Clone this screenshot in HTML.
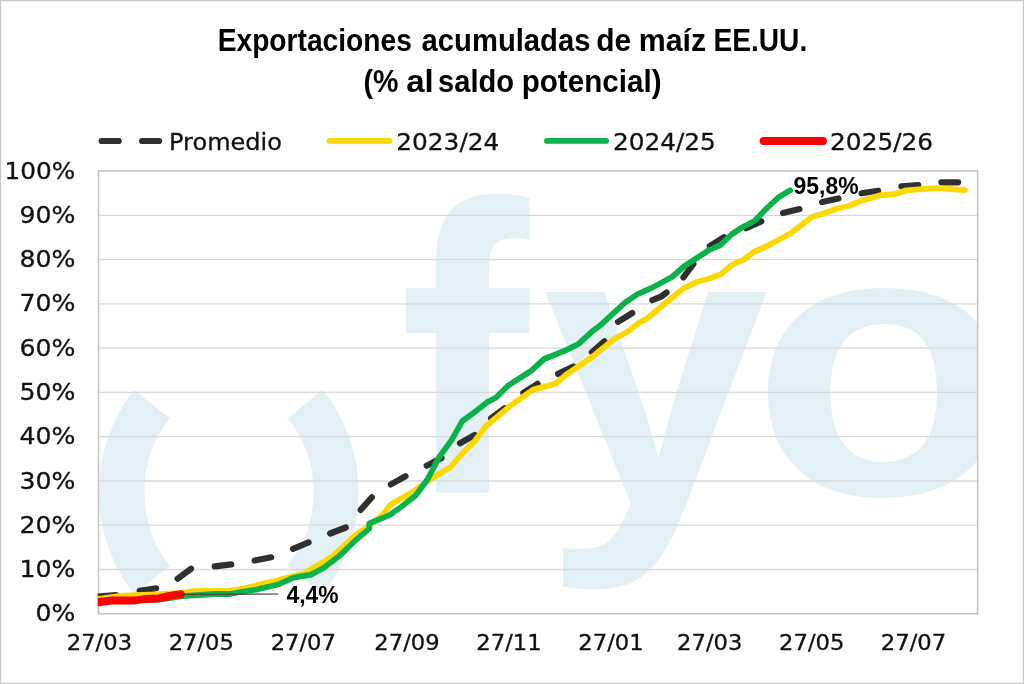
<!DOCTYPE html>
<html lang="es">
<head>
<meta charset="utf-8">
<title>Exportaciones acumuladas de maíz EE.UU.</title>
<style>
html,body{margin:0;padding:0;background:#fff;}
body{width:1024px;height:684px;overflow:hidden;font-family:"DejaVu Sans","Liberation Sans",sans-serif;}
svg{display:block;}
.title{font-family:"Liberation Sans",sans-serif;font-weight:700;font-size:31.2px;fill:#000;}
.ax{font-family:"DejaVu Sans","Liberation Sans",sans-serif;font-size:23.8px;fill:#111;stroke:#111;stroke-width:.3px;}
.axx{font-family:"DejaVu Sans","Liberation Sans",sans-serif;font-size:21.3px;fill:#111;stroke:#111;stroke-width:.3px;}
.lab{font-family:"Liberation Sans",sans-serif;font-weight:700;font-size:23.5px;fill:#000;}
.wm{font-family:"Liberation Sans",sans-serif;font-weight:700;fill:#e3f1f6;}
.ln{fill:none;stroke-linecap:round;stroke-linejoin:round;}
</style>
</head>
<body>
<svg width="1024" height="684" viewBox="0 0 1024 684">
<defs><clipPath id="plotc"><rect x="97.8" y="171.0" width="879.8000000000001" height="442.79999999999995"/></clipPath><clipPath id="fclip"><rect x="380" y="150" width="200" height="342.5"/></clipPath><clipPath id="plot"><rect x="98.5" y="171.0" width="879.1" height="442.79999999999995"/></clipPath></defs>
<rect x="0" y="0" width="1024" height="684" fill="#fff"/>
<rect x="0.5" y="0.5" width="1023" height="683" fill="none" stroke="#c6c6c6" stroke-width="1.3"/>

<text class="title" x="217.70" y="51.1" textLength="194.21" lengthAdjust="spacingAndGlyphs">Exportaciones</text>
<text class="title" x="421.59" y="51.1" textLength="168.90" lengthAdjust="spacingAndGlyphs">acumuladas</text>
<text class="title" x="596.30" y="51.1" textLength="34.94" lengthAdjust="spacingAndGlyphs">de</text>
<text class="title" x="638.76" y="51.1" textLength="67.46" lengthAdjust="spacingAndGlyphs">maíz</text>
<text class="title" x="713.47" y="51.1" textLength="93.78" lengthAdjust="spacingAndGlyphs">EE.UU.</text>
<text class="title" x="363.40" y="91.5" textLength="34.97" lengthAdjust="spacingAndGlyphs">(%</text>
<text class="title" x="406.21" y="91.5" textLength="27.53" lengthAdjust="spacingAndGlyphs">al</text>
<text class="title" x="438.08" y="91.5" textLength="76.05" lengthAdjust="spacingAndGlyphs">saldo</text>
<text class="title" x="521.70" y="91.5" textLength="139.84" lengthAdjust="spacingAndGlyphs">potencial)</text>

<g class="ln">
<path d="M101.7 141H118.7M142.1 141H159.1" stroke="#303030" stroke-width="6.2"/>
<line x1="329.5" x2="389.3" y1="140.9" y2="140.9" stroke="#fcd800" stroke-width="5.8"/>
<line x1="546.9" x2="606.1" y1="140.9" y2="140.9" stroke="#0db14b" stroke-width="5.8"/>
<line x1="763.7" x2="822.9" y1="140.9" y2="140.9" stroke="#ff0000" stroke-width="8"/>
</g>
<g class="ax">
<text x="169" y="149.5" textLength="113" lengthAdjust="spacingAndGlyphs">Promedio</text>
<text x="396.3" y="149.5" textLength="103" lengthAdjust="spacingAndGlyphs">2023/24</text>
<text x="612.9" y="149.5" textLength="103" lengthAdjust="spacingAndGlyphs">2024/25</text>
<text x="830.1" y="149.5" textLength="103" lengthAdjust="spacingAndGlyphs">2025/26</text>
</g>

<g clip-path="url(#plot)">
<g class="wm">
<path d="M152 404A142.7 142.7 0 0 0 152 580" fill="none" stroke="#e3f1f6" stroke-width="45.6"/>
<path d="M305 404A140 140 0 0 1 305 580" fill="none" stroke="#e3f1f6" stroke-width="45"/>
<g clip-path="url(#fclip)"><text x="0" y="0" font-size="400" transform="translate(399.5 543.0) scale(0.97 1.205)">f</text></g>
<text x="0" y="0" font-size="400" transform="translate(542 505.4) scale(1.02 1.01)">y</text>
<text x="0" y="0" font-size="400" transform="translate(751 494.2) scale(1.085 0.958)">o</text>
</g>
</g>

<g stroke="#d9d9d9" stroke-width="1.3"><line x1="98.5" x2="977.6" y1="569.5" y2="569.5"/><line x1="98.5" x2="977.6" y1="525.2" y2="525.2"/><line x1="98.5" x2="977.6" y1="481.0" y2="481.0"/><line x1="98.5" x2="977.6" y1="436.7" y2="436.7"/><line x1="98.5" x2="977.6" y1="392.4" y2="392.4"/><line x1="98.5" x2="977.6" y1="348.1" y2="348.1"/><line x1="98.5" x2="977.6" y1="303.8" y2="303.8"/><line x1="98.5" x2="977.6" y1="259.6" y2="259.6"/><line x1="98.5" x2="977.6" y1="215.3" y2="215.3"/></g>
<rect x="98.5" y="171.0" width="879.1" height="442.79999999999995" fill="none" stroke="#c4c4c4" stroke-width="1.5"/>

<g class="ln" clip-path="url(#plotc)">
<path d="M90.0 597.3 L115.9 595.1 M139.6 590.8 L156.2 588.3 M177.6 578.7 L191.0 568.7 M214.7 566.4 L231.3 564.4 M254.6 560.5 L271.2 557.3 M293.0 548.8 L308.6 542.4 M330.2 533.5 L345.8 527.5 M360.7 509.9 L371.9 497.3 M390.8 484.4 L405.5 476.3 M426.7 465.7 L441.5 457.9 M460.0 443.2 L474.7 435.0 M491.1 418.3 L504.6 408.3 M523.3 392.8 L537.6 383.8 M558.1 373.9 L573.3 366.6 M591.9 352.3 L604.4 341.2 M618.0 321.8 L632.3 313.0 M652.3 300.2 L661.0 296.7 L666.5 292.5 M683.4 277.4 L693.4 264.0 M709.8 246.2 L724.1 237.2 M746.0 228.2 L761.3 221.4 M783.0 213.1 L799.4 209.1 M822.1 202.0 L838.5 198.5 M861.5 193.3 L878.2 190.7 M901.4 186.4 L918.2 185.2 M941.4 182.3 L958.1 182.3" stroke="#303030" stroke-width="6.2"/>
<polyline points="96.0,599.4 122.2,595.6 156.6,594.4 181.3,592.8 193.1,591.2 230.0,590.3 240.3,589.2 275.4,580.8 293.0,576.4 303.6,573.8 331.7,557.1 355.2,535.3 366.0,528.3 382.0,515.3 391.2,504.2 412.6,492.0 431.4,478.6 450.2,467.3 464.2,451.3 474.5,441.5 485.5,426.6 498.8,415.5 510.5,405.6 533.2,389.6 555.1,383.9 567.6,373.6 589.5,359.0 614.6,338.8 627.1,332.0 640.0,322.0 647.0,318.6 683.0,288.7 697.0,281.8 708.0,279.0 720.5,274.5 732.0,264.8 744.0,259.4 754.4,251.5 767.0,246.0 790.4,233.5 812.3,216.8 823.3,213.6 835.8,209.0 848.3,206.0 860.8,201.0 880.0,195.3 895.3,194.0 906.3,190.3 931.3,188.3 942.2,188.3 954.8,189.4 965.0,190.1" stroke="#fcd800" stroke-width="5.8"/>
<polyline points="96.0,602.0 168.0,598.5 182.0,596.1 215.0,594.0 230.0,594.0 240.3,592.0 257.9,589.3 279.0,584.2 293.0,577.9 301.8,576.2 310.6,574.9 323.9,567.8 339.5,555.8 355.2,540.5 369.3,528.6 369.3,523.5 390.0,514.9 401.0,507.0 415.7,495.5 427.2,479.8 439.2,457.1 451.7,439.9 462.3,421.1 475.2,411.7 487.7,401.8 495.6,398.0 508.2,385.5 531.6,370.5 544.2,359.0 566.1,350.2 578.6,343.9 592.7,330.8 600.0,325.6 625.0,302.7 637.6,294.2 651.6,288.0 672.0,277.0 684.5,266.0 709.5,249.8 720.5,245.0 731.5,234.5 741.9,227.5 754.4,221.0 767.0,208.0 777.9,197.8 790.2,190.2" stroke="#0db14b" stroke-width="5.8"/>
<polyline points="96.0,602.5 111.5,600.5 135.1,600.4 145.9,598.9 158.7,598.5 169.5,595.9 180.8,594.3" stroke="#ff0000" stroke-width="8"/>
</g>
<line x1="182" x2="278.5" y1="594.5" y2="594" stroke="#404040" stroke-width="1.1"/>
<text class="lab" x="286.5" y="603.3" textLength="52" lengthAdjust="spacingAndGlyphs">4,4%</text>
<text class="lab" x="793.6" y="193.8" textLength="65" lengthAdjust="spacingAndGlyphs">95,8%</text>

<g class="ax"><text x="75.4" y="621.3" text-anchor="end" textLength="39.8" lengthAdjust="spacingAndGlyphs">0%</text><text x="75.4" y="577.0" text-anchor="end" textLength="56.0" lengthAdjust="spacingAndGlyphs">10%</text><text x="75.4" y="532.7" text-anchor="end" textLength="56.0" lengthAdjust="spacingAndGlyphs">20%</text><text x="75.4" y="488.5" text-anchor="end" textLength="56.0" lengthAdjust="spacingAndGlyphs">30%</text><text x="75.4" y="444.2" text-anchor="end" textLength="56.0" lengthAdjust="spacingAndGlyphs">40%</text><text x="75.4" y="399.9" text-anchor="end" textLength="56.0" lengthAdjust="spacingAndGlyphs">50%</text><text x="75.4" y="355.6" text-anchor="end" textLength="56.0" lengthAdjust="spacingAndGlyphs">60%</text><text x="75.4" y="311.3" text-anchor="end" textLength="56.0" lengthAdjust="spacingAndGlyphs">70%</text><text x="75.4" y="267.1" text-anchor="end" textLength="56.0" lengthAdjust="spacingAndGlyphs">80%</text><text x="75.4" y="222.8" text-anchor="end" textLength="56.0" lengthAdjust="spacingAndGlyphs">90%</text><text x="75.4" y="178.5" text-anchor="end" textLength="70.8" lengthAdjust="spacingAndGlyphs">100%</text></g>
<g class="axx"><text x="99.4" y="649.6" text-anchor="middle" textLength="65.3" lengthAdjust="spacingAndGlyphs">27/03</text><text x="201.3" y="649.6" text-anchor="middle" textLength="65.3" lengthAdjust="spacingAndGlyphs">27/05</text><text x="303.3" y="649.6" text-anchor="middle" textLength="65.3" lengthAdjust="spacingAndGlyphs">27/07</text><text x="407.0" y="649.6" text-anchor="middle" textLength="65.3" lengthAdjust="spacingAndGlyphs">27/09</text><text x="509.0" y="649.6" text-anchor="middle" textLength="65.3" lengthAdjust="spacingAndGlyphs">27/11</text><text x="611.0" y="649.6" text-anchor="middle" textLength="65.3" lengthAdjust="spacingAndGlyphs">27/01</text><text x="709.7" y="649.6" text-anchor="middle" textLength="65.3" lengthAdjust="spacingAndGlyphs">27/03</text><text x="811.7" y="649.6" text-anchor="middle" textLength="65.3" lengthAdjust="spacingAndGlyphs">27/05</text><text x="913.5" y="649.6" text-anchor="middle" textLength="65.3" lengthAdjust="spacingAndGlyphs">27/07</text></g>
</svg>
</body>
</html>
